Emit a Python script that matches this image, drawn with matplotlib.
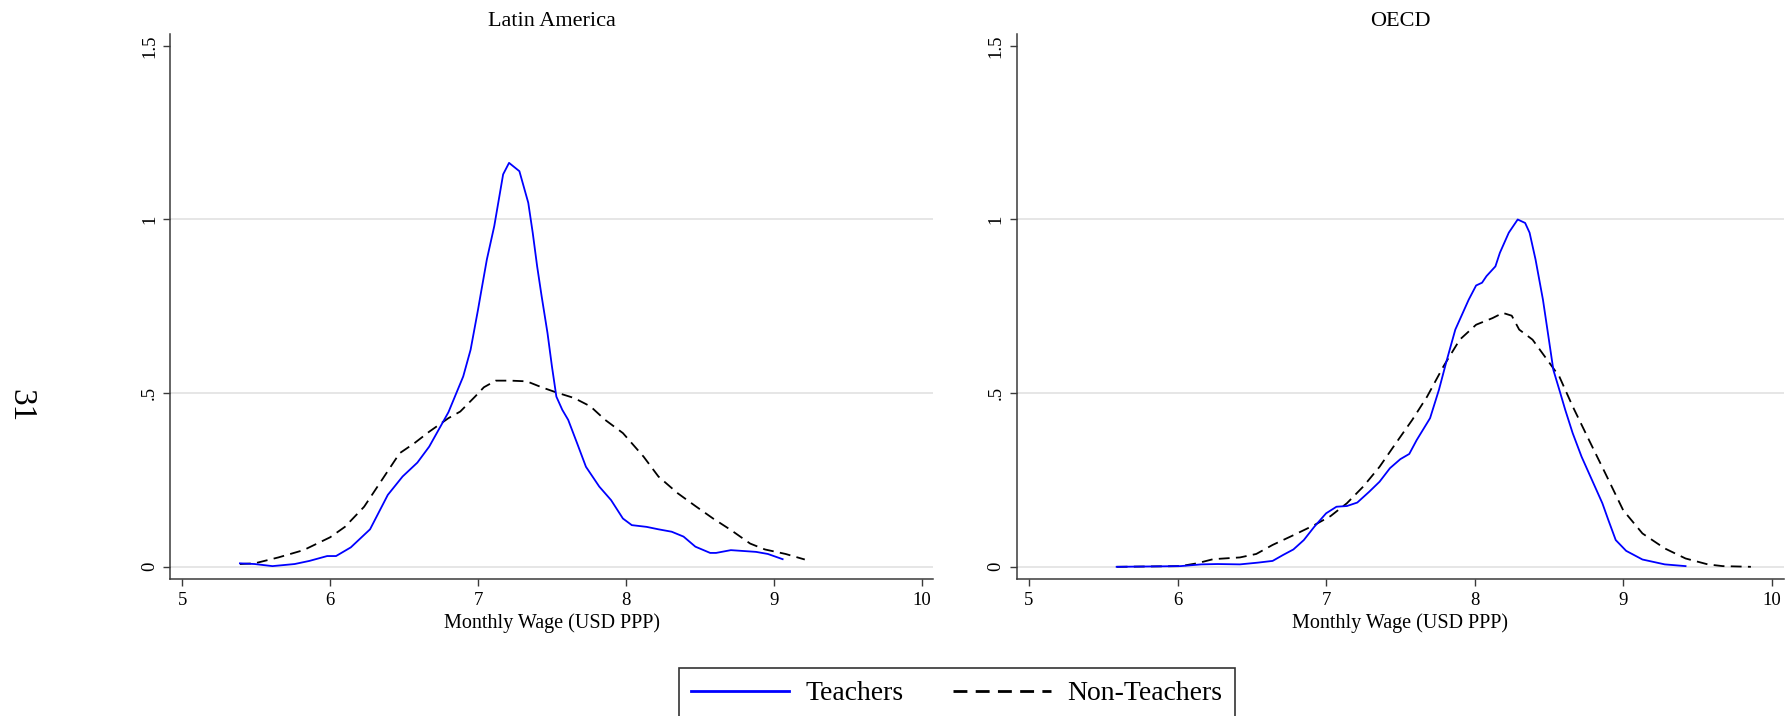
import matplotlib.pyplot as plt
from matplotlib.lines import Line2D

plt.rcParams['font.family'] = ['Liberation Serif', 'DejaVu Serif']

# Latin America - teachers (blue) and non-teachers (dashed)
LA_TEACH_X = [5.39, 5.49, 5.61, 5.76, 5.86, 5.98, 6.04, 6.14, 6.27, 6.39, 6.49, 6.59, 6.67, 6.80,
              6.90, 6.95, 7.00, 7.02, 7.06, 7.11, 7.17, 7.21, 7.28, 7.34, 7.37, 7.40, 7.43, 7.47,
              7.50, 7.53, 7.57, 7.61, 7.67, 7.73, 7.82, 7.90, 7.98, 8.04, 8.14, 8.22, 8.31, 8.39,
              8.47, 8.57, 8.61, 8.71, 8.88, 8.96, 9.06]
LA_TEACH_Y = [0.010, 0.008, 0.002, 0.008, 0.017, 0.031, 0.031, 0.056, 0.108, 0.207, 0.260, 0.300,
              0.346, 0.445, 0.548, 0.625, 0.740, 0.789, 0.885, 0.981, 1.130, 1.163, 1.139, 1.048,
              0.962, 0.865, 0.780, 0.673, 0.577, 0.490, 0.452, 0.423, 0.356, 0.288, 0.231, 0.192,
              0.139, 0.120, 0.115, 0.108, 0.101, 0.087, 0.058, 0.040, 0.040, 0.048, 0.043, 0.037,
              0.022]

LA_OTHER_X = [5.39, 5.49, 5.65, 5.82, 6.00, 6.10, 6.23, 6.35, 6.47, 6.57, 6.67, 6.80, 6.88, 6.98,
              7.04, 7.12, 7.22, 7.33, 7.43, 7.53, 7.65, 7.76, 7.86, 7.98, 8.12, 8.22, 8.35, 8.47,
              8.59, 8.71, 8.84, 8.94, 9.08, 9.21]
LA_OTHER_Y = [0.008, 0.010, 0.027, 0.048, 0.085, 0.115, 0.173, 0.250, 0.327, 0.356, 0.389, 0.428,
              0.447, 0.490, 0.517, 0.536, 0.536, 0.534, 0.517, 0.502, 0.486, 0.462, 0.423, 0.385,
              0.317, 0.260, 0.212, 0.175, 0.139, 0.106, 0.067, 0.050, 0.037, 0.021]

# OECD
OECD_TEACH_X = [5.59, 6.02, 6.16, 6.27, 6.42, 6.54, 6.64, 6.71, 6.78, 6.85, 6.92, 7.00, 7.07, 7.14,
                7.21, 7.29, 7.36, 7.43, 7.50, 7.56, 7.61, 7.70, 7.76, 7.81, 7.87, 7.96, 8.01, 8.05,
                8.08, 8.14, 8.17, 8.23, 8.29, 8.34, 8.37, 8.41, 8.46, 8.50, 8.53, 8.57, 8.61, 8.66,
                8.72, 8.79, 8.86, 8.90, 8.95, 9.02, 9.13, 9.28, 9.42]
OECD_TEACH_Y = [0.000, 0.002, 0.007, 0.008, 0.007, 0.012, 0.017, 0.034, 0.050, 0.077, 0.115, 0.154,
                0.173, 0.175, 0.185, 0.216, 0.245, 0.284, 0.310, 0.325, 0.365, 0.428, 0.510, 0.591,
                0.683, 0.769, 0.810, 0.818, 0.837, 0.865, 0.904, 0.962, 1.000, 0.990, 0.962, 0.885,
                0.769, 0.654, 0.567, 0.510, 0.452, 0.385, 0.317, 0.250, 0.183, 0.135, 0.077, 0.046,
                0.021, 0.007, 0.002]

OECD_OTHER_X = [5.59, 6.02, 6.13, 6.24, 6.42, 6.53, 6.64, 6.78, 6.92, 7.03, 7.14, 7.25, 7.36, 7.47,
                7.58, 7.68, 7.79, 7.90, 8.01, 8.12, 8.19, 8.25, 8.30, 8.39, 8.48, 8.57, 8.66, 8.77,
                8.88, 9.00, 9.13, 9.28, 9.42, 9.57, 9.67, 9.86]
OECD_OTHER_Y = [0.000, 0.002, 0.010, 0.022, 0.027, 0.037, 0.063, 0.091, 0.120, 0.146, 0.183, 0.231,
                0.288, 0.356, 0.423, 0.490, 0.577, 0.654, 0.697, 0.716, 0.731, 0.723, 0.683, 0.654,
                0.601, 0.548, 0.462, 0.365, 0.269, 0.163, 0.096, 0.053, 0.024, 0.007, 0.002, 0.000]

PANELS = ["Latin America", "OECD"]
X_TICKS = [5, 6, 7, 8, 9, 10]
Y_TICKS = [0, 0.5, 1, 1.5]
Y_TICKLABELS = ["0", ".5", "1", "1.5"]
X_LABEL = "Monthly Wage (USD PPP)"

BLUE = "#0000ff"
SPINE = "#3a3a3a"

fig = plt.figure(figsize=(17.92, 7.16), dpi=100)
ax_la = fig.add_axes([0.0951, 0.1909, 0.4258, 0.7616])
ax_oe = fig.add_axes([0.5676, 0.1909, 0.4277, 0.7616])

data = [
    (ax_la, LA_TEACH_X, LA_TEACH_Y, LA_OTHER_X, LA_OTHER_Y),
    (ax_oe, OECD_TEACH_X, OECD_TEACH_Y, OECD_OTHER_X, OECD_OTHER_Y),
]

for (ax, tx, ty, ox, oy), title in zip(data, PANELS):
    for g in [0, 0.5, 1]:
        ax.axhline(g, color="#e6e6e6", lw=1.4, zorder=0)
    ax.plot(tx, ty, color=BLUE, lw=1.3, zorder=3)
    ax.plot(ox, oy, color="black", lw=1.3, dashes=(6, 3.5), zorder=2)
    ax.set_xlim(4.92, 10.08)
    ax.set_ylim(-0.036, 1.534)
    ax.set_xticks(X_TICKS)
    ax.set_yticks(Y_TICKS)
    ax.set_yticklabels(Y_TICKLABELS, rotation=90, va="center")
    ax.tick_params(labelsize=13.5, length=5, color=SPINE, width=1, pad=4)
    ax.set_xlabel(X_LABEL, fontsize=14.5, labelpad=3)
    ax.set_title(title, fontsize=16, pad=6)
    for side in ["top", "right"]:
        ax.spines[side].set_visible(False)
    for side in ["left", "bottom"]:
        ax.spines[side].set_color(SPINE)
        ax.spines[side].set_linewidth(1.1)

handles = [
    Line2D([], [], color=BLUE, lw=2),
    Line2D([], [], color="black", lw=2, dashes=(5, 3)),
]
leg = fig.legend(handles, ["Teachers", "Non-Teachers"], loc="upper center",
                 bbox_to_anchor=(0.534, 0.0666), ncol=2, fontsize=20, frameon=True,
                 fancybox=False, edgecolor="black", handlelength=3.5, handletextpad=0.6,
                 columnspacing=1.8, borderpad=0.45, borderaxespad=0)
leg.get_frame().set_linewidth(1.2)

fig.text(0.0115, 0.433, "31", rotation=-90, fontsize=24, ha="center", va="center")

fig.savefig("out.png", dpi=100)
